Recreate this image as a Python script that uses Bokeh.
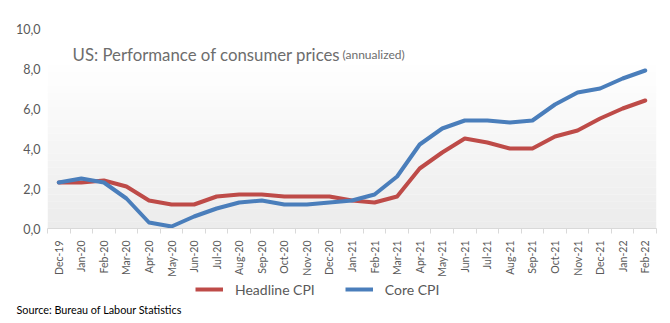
import math
from bokeh.plotting import figure
from bokeh.layouts import column
from bokeh.models import (FixedTicker, CustomJSTickFormatter, Legend, LegendItem,
                          Label, Range1d, Title)
from bokeh.embed import file_html
from bokeh.resources import INLINE

months = ["Dec-19", "Jan-20", "Feb-20", "Mar-20", "Apr-20", "May-20", "Jun-20",
          "Jul-20", "Aug-20", "Sep-20", "Oct-20", "Nov-20", "Dec-20", "Jan-21",
          "Feb-21", "Mar-21", "Apr-21", "May-21", "Jun-21", "Jul-21", "Aug-21",
          "Sep-21", "Oct-21", "Nov-21", "Dec-21", "Jan-22", "Feb-22"]
headline_cpi = [2.3, 2.3, 2.4, 2.1, 1.4, 1.2, 1.2, 1.6, 1.7, 1.7, 1.6, 1.6, 1.6, 1.4,
                1.3, 1.6, 3.0, 3.8, 4.5, 4.3, 4.0, 4.0, 4.6, 4.9, 5.5, 6.0, 6.4]
core_cpi = [2.3, 2.5, 2.3, 1.5, 0.3, 0.1, 0.6, 1.0, 1.3, 1.4, 1.2, 1.2, 1.3, 1.4,
            1.7, 2.6, 4.2, 5.0, 5.4, 5.4, 5.3, 5.4, 6.2, 6.8, 7.0, 7.5, 7.9]
y_ticks = [0, 2, 4, 6, 8, 10]

FONT = "Lato"
RED = "#BE4B48"
BLUE = "#4A7EBB"
n = len(months)
xs = list(range(n))

p = figure(frame_width=609, frame_height=200, output_backend="svg",
           toolbar_location=None,
           x_range=Range1d(-0.5, n - 0.5), y_range=Range1d(0, 10),
           min_border_left=47, min_border_right=14, min_border_top=28,
           min_border_bottom=50)
p.outline_line_color = None
p.grid.grid_line_color = None
p.background_fill_color = "white"
p.border_fill_color = "white"

# plot-area gradient (white at top to light grey at bottom)
steps = 24
top = 8.15
for i in range(steps):
    y0 = top - (i + 1) * top / steps
    y1 = top - i * top / steps
    g = int(255 - (255 - 236) * (i + 0.5) / steps)
    p.quad(left=-0.5, right=n - 0.5, bottom=y0, top=y1,
           fill_color=(g, g, g), line_color=None)

p.line(xs, headline_cpi, line_color=RED, line_width=4,
       line_join="round", line_cap="round")
p.line(xs, core_cpi, line_color=BLUE, line_width=4,
       line_join="round", line_cap="round")

# y axis
p.yaxis.ticker = FixedTicker(ticks=y_ticks)
p.yaxis.formatter = CustomJSTickFormatter(code="return tick.toFixed(1).replace('.', ',');")
p.yaxis.axis_line_color = None
p.yaxis.major_tick_line_color = None
p.yaxis.minor_tick_line_color = None
p.yaxis.major_tick_out = 0
p.yaxis.major_label_standoff = 7
p.yaxis.major_label_text_font = FONT
p.yaxis.major_label_text_font_size = "12.5px"
p.yaxis.major_label_text_color = "#595959"

# x axis
p.xaxis.ticker = FixedTicker(ticks=xs, minor_ticks=[i - 0.5 for i in range(n + 1)])
p.xaxis.major_label_overrides = {i: m for i, m in enumerate(months)}
p.xaxis.major_label_orientation = math.pi / 2
p.xaxis.axis_line_color = "#d9d9d9"
p.xaxis.major_tick_line_color = None
p.xaxis.major_tick_out = 0
p.xaxis.minor_tick_line_color = "#d9d9d9"
p.xaxis.minor_tick_in = 0
p.xaxis.minor_tick_out = 5
p.xaxis.major_label_standoff = 7
p.xaxis.major_label_text_font = FONT
p.xaxis.major_label_text_font_size = "10.5px"
p.xaxis.major_label_text_color = "#595959"

# title inside plot area
p.add_layout(Label(x=0.61, y=8.7, text="US: Performance of consumer prices",
                   text_font=FONT, text_font_size="16.8px", text_color="#6d6d6d",
                   text_baseline="alphabetic"))
p.add_layout(Label(x=12.58, y=8.7, text="(annualized)",
                   text_font=FONT, text_font_size="12px", text_color="#6d6d6d",
                   text_baseline="alphabetic"))

# footer figure: legend and source note
f = figure(frame_width=609, frame_height=20, output_backend="svg",
           toolbar_location=None, x_range=Range1d(-0.5, n - 0.5),
           y_range=Range1d(-100, -99), min_border_left=47, min_border_right=14,
           min_border_top=0, min_border_bottom=0,
           x_axis_type=None, y_axis_type=None)
f.outline_line_color = None
f.grid.grid_line_color = None
f.border_fill_color = "white"
r_head = f.line(xs, headline_cpi, line_color=RED, line_width=4)
r_core = f.line(xs, core_cpi, line_color=BLUE, line_width=4)

legend = Legend(items=[LegendItem(label="Headline CPI", renderers=[r_head]),
                       LegendItem(label="Core CPI", renderers=[r_core])],
                orientation="horizontal", location=(148, 0), margin=0, padding=0,
                border_line_color=None, background_fill_alpha=0,
                label_text_font=FONT, label_text_font_size="14px",
                label_text_color="#595959", glyph_width=28, glyph_height=20,
                label_height=20, label_standoff=12, spacing=30)
f.add_layout(legend)

f.add_layout(Title(text="Source: Bureau of Labour Statistics", align="left",
                   offset=-31, standoff=3, text_font=FONT, text_font_size="10.8px",
                   text_font_style="normal", text_color="black"), "below")

layout = column(p, f, spacing=0)
open("out.html", "w").write(file_html(layout, INLINE))
